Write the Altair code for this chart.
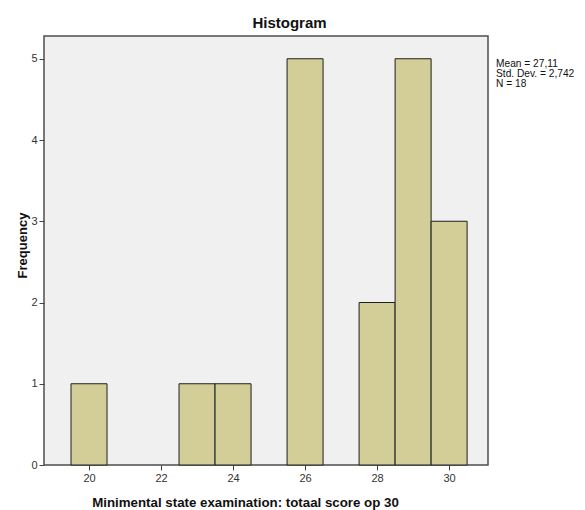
import altair as alt
import pandas as pd

# Data
bin_centers = [20, 23, 24, 26, 28, 29, 30]
frequencies = [1, 1, 1, 5, 2, 5, 3]
x_ticks = [20, 22, 24, 26, 28, 30]
y_ticks = [0, 1, 2, 3, 4, 5]
chart_title = "Histogram"
x_title = "Minimental state examination: totaal score op 30"
y_title = "Frequency"
stats_lines = ["Mean = 27,11", "Std. Dev. = 2,742", "N = 18"]

df = pd.DataFrame({
    "lo": [c - 0.5 for c in bin_centers],
    "hi": [c + 0.5 for c in bin_centers],
    "freq": frequencies,
})

FONT = "Liberation Sans"
W, H = 444, 429

x_scale = alt.Scale(domain=[18.75, 31.08], nice=False, zero=False)
y_scale = alt.Scale(domain=[0, 5.28], nice=False)

bars = alt.Chart(df).mark_rect(
    fill="#d3ce97", stroke="#1e1e1e", strokeWidth=1
).encode(
    x=alt.X("lo:Q", scale=x_scale,
            axis=alt.Axis(values=x_ticks, format="d", title=x_title,
                          titleX=201, titleY=41, titleAlign="center",
                          titleBaseline="alphabetic", titleAnchor="middle",
                          titleFontSize=13.3)),
    x2="hi:Q",
    y=alt.Y("freq:Q", scale=y_scale,
            axis=alt.Axis(values=y_ticks, format="d", title=y_title,
                          titleX=-15, titleY=209, titleAlign="center",
                          titleBaseline="bottom", titleAngle=-90)),
    y2=alt.datum(0),
)

title_text = alt.Chart(pd.DataFrame({"t": [chart_title]})).mark_text(
    font=FONT, fontSize=15, fontWeight="bold", color="#111",
    align="center", baseline="alphabetic"
).encode(text="t:N", x=alt.value(245.5), y=alt.value(-8))

stats_text = alt.Chart(pd.DataFrame({"t": ["\n".join(stats_lines)]})).mark_text(
    font=FONT, fontSize=10.2, color="#111", align="left", baseline="top",
    lineBreak="\n", lineHeight=10.2
).encode(text="t:N", x=alt.value(452), y=alt.value(23))

chart = alt.layer(bars, title_text, stats_text).properties(
    width=W, height=H,
    autosize=alt.AutoSizeParams(type="none"),
    padding={"left": 36, "top": 28, "right": 89, "bottom": 45},
    background="white",
).configure_view(
    fill="#f0f0f0", stroke="#4d4d4d", strokeWidth=1.5
).configure_axis(
    domain=False, grid=False,
    tickColor="#444", tickSize=5, tickWidth=1,
    labelFont=FONT, labelFontSize=11, labelColor="#333", labelPadding=2,
    titleFont=FONT, titleFontSize=13, titleFontWeight="bold", titleColor="#111",
)

chart.save("out.html", embed_options={"renderer": "svg", "actions": False})
